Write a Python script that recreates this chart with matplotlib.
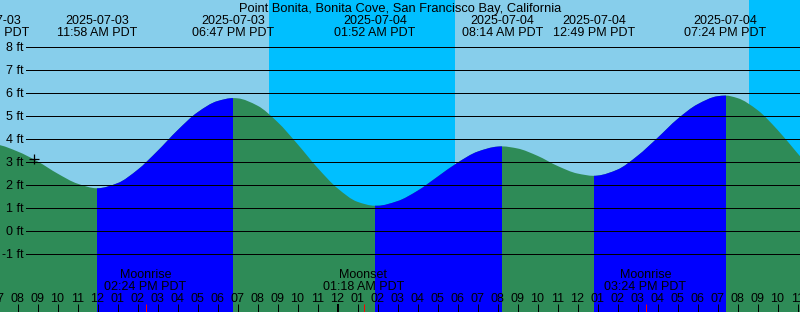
import numpy as np
import pandas as pd
import matplotlib
matplotlib.use("Agg")
import matplotlib.pyplot as plt
from matplotlib import transforms as mtransforms
from matplotlib.path import Path
from matplotlib.patches import PathPatch, Rectangle

# ---------------- data ----------------
title = "Point Bonita, Bonita Cove, San Francisco Bay, California"

# high / low tide events (local PDT) and their levels (ft)
event_stamps = ["2025-07-03 06:34", "2025-07-03 11:58", "2025-07-03 18:47",
                "2025-07-04 01:52", "2025-07-04 08:14", "2025-07-04 12:49",
                "2025-07-04 19:24"]
event_levels = [3.80, 1.88, 5.80, 1.12, 3.70, 2.42, 5.91]

# tide level read every hour, starting 2025-07-03 07:00
hour_start = "2025-07-03 07:00"
hour_levels = [3.77, 3.48, 3.05, 2.52, 2.08, 1.88, 2.10, 2.68, 3.50, 4.40,
               5.18, 5.67, 5.79, 5.47, 4.76, 3.80, 2.77, 1.88, 1.29, 1.12,
               1.32, 1.77, 2.38, 2.99, 3.47, 3.69, 3.61, 3.29, 2.85, 2.52,
               2.43, 2.69, 3.29, 4.07, 4.89, 5.53, 5.88, 5.80, 5.28, 4.42,
               3.40, 2.40]

# sunset, sunrise, sunset
sun_stamps = ["2025-07-03 20:35", "2025-07-04 05:53", "2025-07-04 20:35"]

moon_names = ["Moonrise", "Moonset", "Moonrise"]
moon_stamps = ["2025-07-03 14:24", "2025-07-04 01:18", "2025-07-04 15:24"]

mark_stamp = "2025-07-03 08:50"
mark_level = 3.15

level_ticks = [-1, 0, 1, 2, 3, 4, 5, 6, 7, 8]

# ---------------- helpers ----------------
origin = pd.Timestamp("2025-07-03 00:00")


def hrs(stamp):
    return (pd.Timestamp(stamp) - origin) / pd.Timedelta(hours=1)


def pchip_slopes(x, y):
    """Shape-preserving tangents so the drawn Bezier path passes through the
    readings without overshooting the highs and lows."""
    h = np.diff(x)
    d = np.diff(y) / h
    m = np.zeros_like(y)
    for k in range(1, len(x) - 1):
        if d[k - 1] * d[k] > 0:
            w1 = 2 * h[k] + h[k - 1]
            w2 = h[k] + 2 * h[k - 1]
            m[k] = (w1 + w2) / (w1 / d[k - 1] + w2 / d[k])
    m[0], m[-1] = d[0], d[-1]
    return m


def smooth_fill_path(x, y, base):
    m = pchip_slopes(x, y)
    verts = [(x[0], base), (x[0], y[0])]
    codes = [Path.MOVETO, Path.LINETO]
    for k in range(len(x) - 1):
        dt = (x[k + 1] - x[k]) / 3.0
        verts += [(x[k] + dt, y[k] + m[k] * dt),
                  (x[k + 1] - dt, y[k + 1] - m[k + 1] * dt),
                  (x[k + 1], y[k + 1])]
        codes += [Path.CURVE4] * 3
    verts += [(x[-1], base), (x[0], base)]
    codes += [Path.LINETO, Path.CLOSEPOLY]
    return Path(verts, codes)


x0, x1 = 7.125, 47.125
y0, y1 = -3.5, 10.065

SKY = "#87CEEB"
NIGHT = "#00BFFF"
RISE = "#0000FF"
FALL = "#2E8B57"
FONT = ["Liberation Sans", "DejaVu Sans"]
FS = 9

fig = plt.figure(figsize=(8, 3.12), dpi=100)
fig.patch.set_facecolor(SKY)
ax = fig.add_axes([0, 0, 1, 1])
ax.set_xlim(x0, x1)
ax.set_ylim(y0, y1)
ax.set_axis_off()

# night shading
sun_h = [hrs(s) for s in sun_stamps]
ax.axvspan(sun_h[0], sun_h[1], color=NIGHT, lw=0, zorder=0)
ax.axvspan(sun_h[2], x1 + 1, color=NIGHT, lw=0, zorder=0)

# tide curve
ev_h = np.array([hrs(s) for s in event_stamps])
ev_l = np.array(event_levels)
hr_h = hrs(hour_start) + np.arange(len(hour_levels))
t_all = np.concatenate([ev_h, hr_h])
l_all = np.concatenate([ev_l, np.array(hour_levels)])
order = np.argsort(t_all, kind="stable")
t_all, l_all = t_all[order], l_all[order]

tide_path = smooth_fill_path(t_all, l_all, y0 - 1)
ax.add_patch(PathPatch(tide_path, facecolor=FALL, lw=0, zorder=1))
for i in range(len(ev_h) - 1):
    if ev_l[i + 1] > ev_l[i]:
        clip = Rectangle((ev_h[i], y0 - 1), ev_h[i + 1] - ev_h[i], 20,
                         transform=ax.transData)
        p = PathPatch(tide_path, facecolor=RISE, lw=0, zorder=2)
        ax.add_patch(p)
        p.set_clip_path(clip)

# level grid lines and labels
lab_tr = mtransforms.offset_copy(
    mtransforms.blended_transform_factory(fig.transFigure, ax.transData),
    fig=fig, x=0, y=-3.5, units="dots")
for k in level_ticks:
    ax.axhline(k, xmin=26 / 800, xmax=1, color="black", lw=0.72, zorder=3)
    ax.text(24 / 800, k, f"{k} ft", transform=lab_tr, ha="right",
            va="baseline", fontsize=FS, family=FONT, zorder=4)

# title
fig.text(0.5, 1 - 11.7 / 312, title, ha="center", va="baseline",
         fontsize=9.3, family=FONT)

# event labels
top_tr = mtransforms.blended_transform_factory(ax.transData, fig.transFigure)
for s in event_stamps:
    ts = pd.Timestamp(s)
    ax.text(hrs(s), 1 - 24 / 312, ts.strftime("%Y-%m-%d"), transform=top_tr,
            ha="center", va="baseline", fontsize=FS, family=FONT, zorder=5)
    ax.text(hrs(s), 1 - 36 / 312, ts.strftime("%I:%M %p PDT"),
            transform=top_tr, ha="center", va="baseline", fontsize=FS,
            family=FONT, zorder=5)

# moon labels
for name, s in zip(moon_names, moon_stamps):
    ts = pd.Timestamp(s)
    ax.text(hrs(s), 1 - 278.3 / 312, name, transform=top_tr, ha="center",
            va="baseline", fontsize=FS, family=FONT, zorder=5)
    ax.text(hrs(s), 1 - 290 / 312, ts.strftime("%I:%M %p PDT"),
            transform=top_tr, ha="center", va="baseline", fontsize=FS,
            family=FONT, zorder=5)
    ax.vlines(hrs(s), 0, 8.5 / 312, transform=top_tr, color="red",
              lw=0.72, zorder=6)

# hour ticks and labels
for h in range(int(np.floor(x0)), int(np.ceil(x1)) + 1):
    lw = 1.44 if h % 24 == 0 else 0.72
    ax.vlines(h, 0, 8.5 / 312, transform=top_tr, color="black", lw=lw,
              zorder=5)
    ax.text(h, 1 - 301.7 / 312, f"{(h % 12) or 12:02d}", transform=top_tr,
            ha="center", va="baseline", fontsize=FS, family=FONT, zorder=5)

# "now" mark
ax.plot([hrs(mark_stamp)], [mark_level], marker="+", ms=7.5, mew=0.9,
        color="black", zorder=6)

fig.savefig("out.png", dpi=100, facecolor=SKY)
